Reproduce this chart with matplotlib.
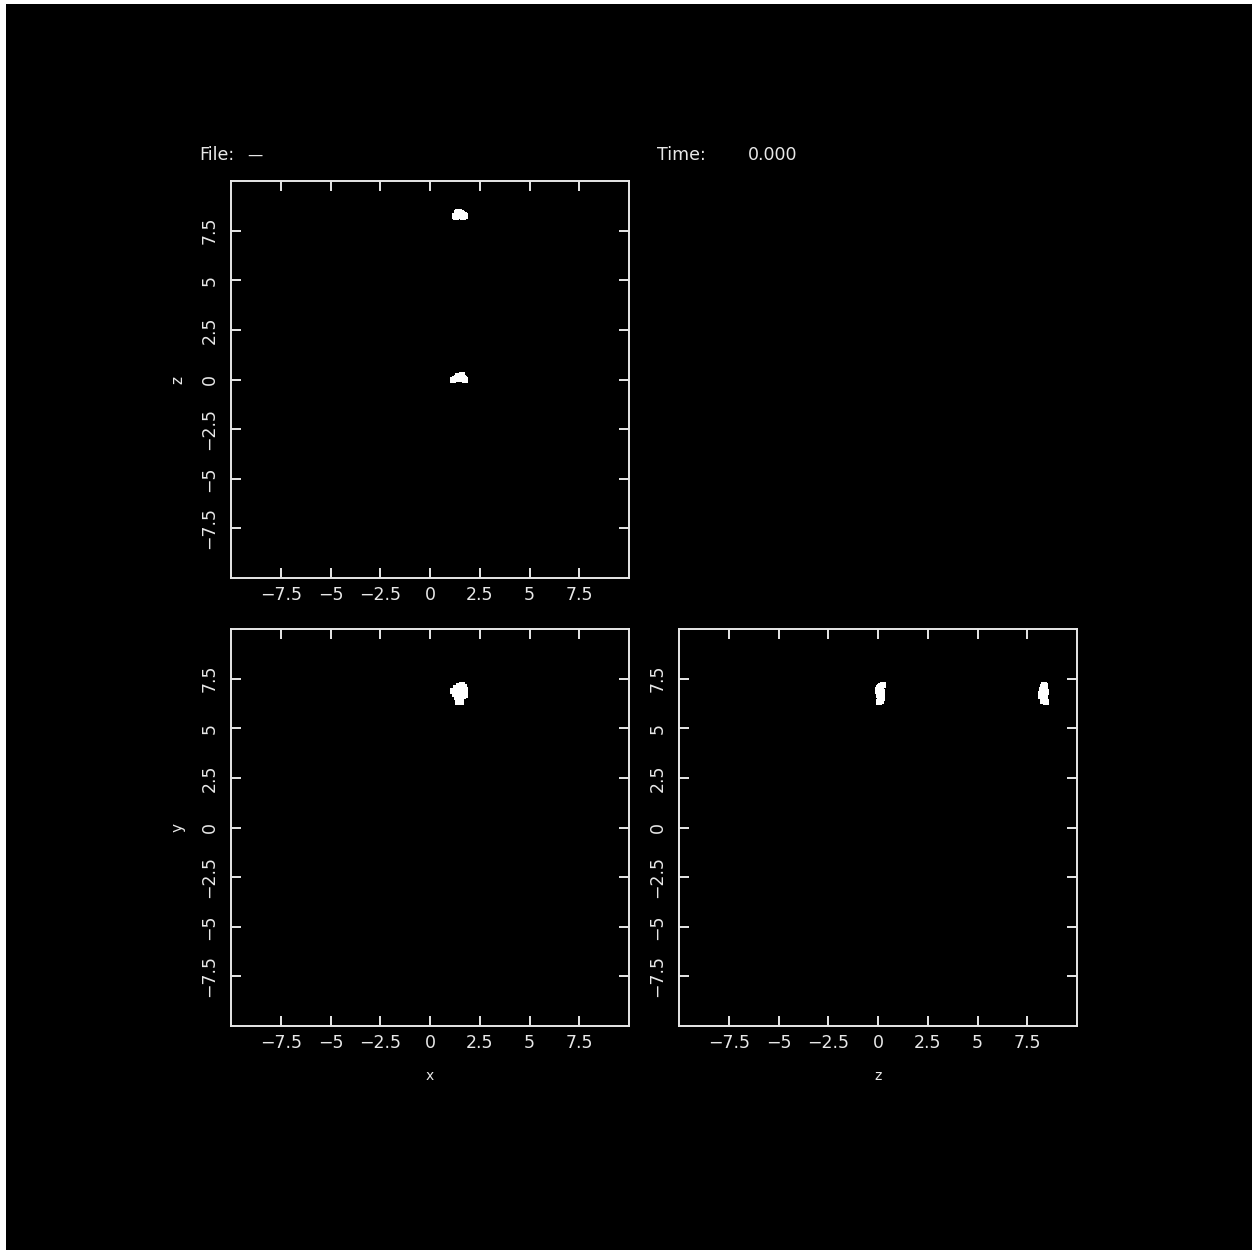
import matplotlib
matplotlib.use("Agg")
import matplotlib.pyplot as plt
from matplotlib.patches import Rectangle

# particle positions, two small clumps
xa = [1.15, 1.30, 1.45, 1.60, 1.75, 1.25, 1.40, 1.55, 1.70, 1.35, 1.50, 1.65, 1.45, 1.55, 1.60]
ya = [6.90, 7.05, 7.15, 7.10, 6.95, 6.75, 6.85, 6.80, 6.70, 6.55, 6.50, 6.60, 6.35, 6.30, 7.20]
za = [0.00, 0.05, 0.15, 0.10, 0.00, 0.05, 0.20, 0.15, 0.05, 0.10, 0.20, 0.10, 0.15, 0.05, 0.25]

xb = [1.25, 1.40, 1.55, 1.70, 1.30, 1.45, 1.60, 1.75, 1.35, 1.50, 1.65, 1.50, 1.40, 1.60, 1.55]
yb = [6.90, 7.05, 7.15, 7.10, 6.75, 6.85, 6.80, 6.70, 6.55, 6.50, 6.60, 6.35, 6.30, 7.20, 6.95]
zb = [8.25, 8.35, 8.40, 8.30, 8.20, 8.45, 8.30, 8.25, 8.40, 8.35, 8.20, 8.30, 8.45, 8.35, 8.25]

ticks = [-7.5, -5, -2.5, 0, 2.5, 5, 7.5]
tick_labels = ["\u22127.5", "\u22125", "\u22122.5", "0", "2.5", "5", "7.5"]
lim = (-10, 10)
fg = "#e8e8e8"

W, H = 1252, 1250
fig = plt.figure(figsize=(W / 100, H / 100), dpi=100, facecolor="white")
# black page with a thin white strip on the left and top
fig.patches.append(Rectangle((6 / W, -0.05), 1.1, 1.05 - 4 / H, transform=fig.transFigure,
                             facecolor="black", edgecolor="none", zorder=-5))


def panel(left, top, px, py, xlabel, ylabel):
    ax = fig.add_axes([left / W, 1 - (top + 397) / H, 398 / W, 397 / H])
    ax.set_facecolor("black")
    ax.scatter(px[0], py[0], s=16, marker="s", c="white", linewidths=0)
    ax.scatter(px[1], py[1], s=16, marker="s", c="white", linewidths=0)
    ax.set_xlim(lim)
    ax.set_ylim(lim)
    ax.set_xticks(ticks)
    ax.set_yticks(ticks)
    ax.set_xticklabels(tick_labels)
    ax.set_yticklabels(tick_labels, rotation=90, va="center")
    ax.tick_params(direction="in", length=7.5, width=1.4, color=fg, labelcolor=fg,
                   labelsize=12.5, top=True, right=True)
    ax.tick_params(axis="x", pad=6)
    ax.tick_params(axis="y", pad=9)
    for s in ax.spines.values():
        s.set_color(fg)
        s.set_linewidth(1.4)
    if xlabel:
        ax.set_xlabel(xlabel, color=fg, fontsize=10, labelpad=12)
    if ylabel:
        ax.set_ylabel(ylabel, color=fg, fontsize=11, labelpad=11)
    return ax


panel(231, 181, (xa, xb), (za, zb), None, "z")
panel(231, 629, (xa, xb), (ya, yb), "x", "y")
panel(679, 629, (za, zb), (ya, yb), "z", None)

fig.text(199 / W, 1 - 155 / H, "File:", color=fg, fontsize=12.5, va="center")
fig.text(247 / W, 1 - 155 / H, "\u2014", color=fg, fontsize=11, va="center")
fig.text(657 / W, 1 - 155 / H, "Time:", color=fg, fontsize=12.5, va="center")
fig.text(748 / W, 1 - 155 / H, "0.000", color=fg, fontsize=12.5, va="center")

fig.savefig("out.png", dpi=100, facecolor=fig.get_facecolor())
